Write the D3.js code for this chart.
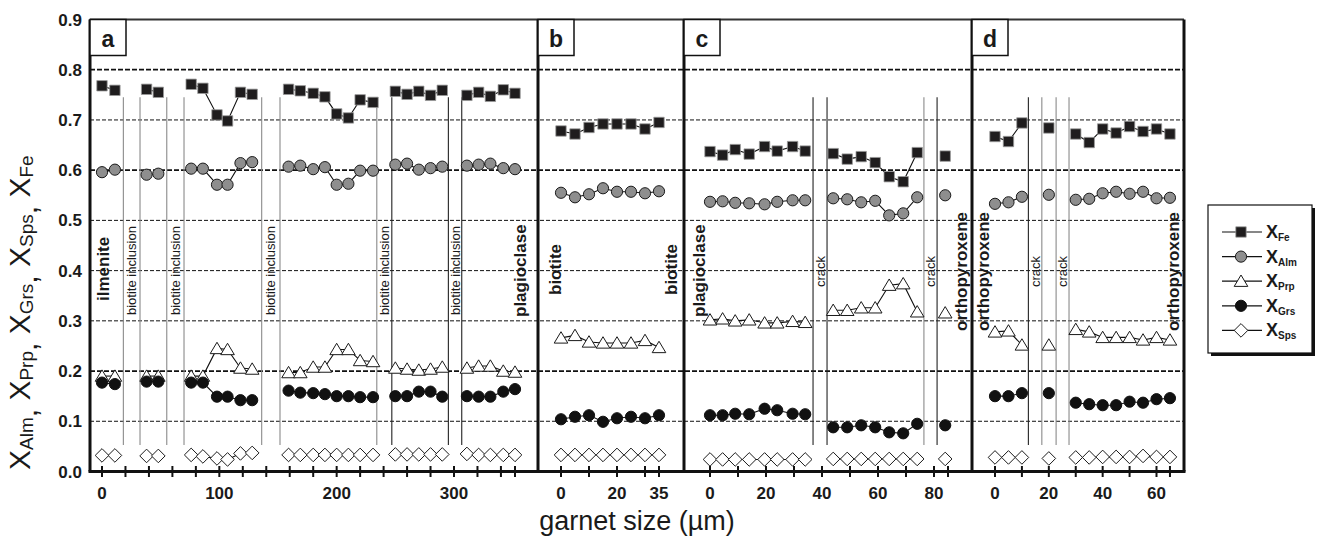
<!DOCTYPE html>
<html>
<head>
<meta charset="utf-8">
<script src="https://cdn.jsdelivr.net/npm/d3@7"></script>
<style>
  body { margin: 0; background: #fff; }
  svg { display: block; }
  text { font-family: "Liberation Sans", Arial, Helvetica, sans-serif; fill: #1a1a1a; }
</style>
</head>
<body>
<svg id="chart" width="1317" height="537"></svg>
<script>
// ---- data: garnet profiles, one array of segments per panel (segments are split by inclusions / cracks)
const yTicks = [0, 0.1, 0.2, 0.3, 0.4, 0.5, 0.6, 0.7, 0.8, 0.9];

// panel a
const sizeA = [[0, 11], [38, 48], [76, 86, 98, 107, 118, 128], [159, 169, 180, 190, 200, 210, 220, 231], [250, 260, 270, 280, 290], [311, 321, 331, 342, 352]];
const feA  = [[0.768, 0.759], [0.761, 0.755], [0.771, 0.763, 0.710, 0.698, 0.755, 0.751], [0.761, 0.758, 0.753, 0.746, 0.712, 0.704, 0.740, 0.735], [0.757, 0.751, 0.757, 0.749, 0.759], [0.749, 0.755, 0.747, 0.760, 0.753]];
const almA = [[0.596, 0.601], [0.591, 0.593], [0.603, 0.603, 0.571, 0.571, 0.614, 0.616], [0.607, 0.609, 0.602, 0.606, 0.571, 0.573, 0.599, 0.599], [0.611, 0.613, 0.601, 0.604, 0.607], [0.609, 0.611, 0.613, 0.604, 0.602]];
const prpA = [[0.190, 0.190], [0.190, 0.190], [0.190, 0.190, 0.245, 0.243, 0.206, 0.204], [0.197, 0.197, 0.208, 0.208, 0.243, 0.243, 0.221, 0.219], [0.206, 0.204, 0.202, 0.204, 0.208], [0.206, 0.210, 0.210, 0.200, 0.198]];
const grsA = [[0.177, 0.174], [0.179, 0.179], [0.177, 0.177, 0.149, 0.149, 0.142, 0.142], [0.161, 0.157, 0.156, 0.154, 0.150, 0.150, 0.148, 0.148], [0.150, 0.150, 0.159, 0.159, 0.149], [0.150, 0.149, 0.149, 0.159, 0.164]];
const spsA = [[0.032, 0.032], [0.031, 0.031], [0.033, 0.030, 0.026, 0.024, 0.036, 0.037], [0.033, 0.033, 0.033, 0.033, 0.033, 0.033, 0.033, 0.033], [0.034, 0.034, 0.034, 0.034, 0.034], [0.035, 0.033, 0.033, 0.033, 0.033]];
const inclusionA = [18.2, 32.4, 55.2, 69.9, 136.1, 151.7, 234.2, 247, 295.2, 306.6];
const xTicksA = [0, 20, 40, 60, 80, 100, 120, 140, 160, 180, 200, 220, 240, 260, 280, 300, 320, 340, 352];
const xLabelsA = [0, 100, 200, 300];

// panel b
const sizeB = [[0, 5, 10, 15, 20, 25, 30, 35]];
const feB  = [[0.678, 0.672, 0.685, 0.692, 0.692, 0.692, 0.682, 0.695]];
const almB = [[0.555, 0.546, 0.552, 0.564, 0.557, 0.557, 0.554, 0.558]];
const prpB = [[0.266, 0.271, 0.258, 0.256, 0.256, 0.256, 0.261, 0.247]];
const grsB = [[0.104, 0.109, 0.112, 0.099, 0.106, 0.109, 0.106, 0.112]];
const spsB = [[0.033, 0.033, 0.033, 0.033, 0.033, 0.033, 0.033, 0.033]];
const xTicksB = [0, 10, 20, 30, 35];
const xLabelsB = [0, 20, 35];

// panel c
const sizeC = [[0, 4.5, 9, 14, 19.5, 24, 29.5, 34], [44, 49, 54, 59, 64, 69, 74], [84]];
const feC  = [[0.637, 0.630, 0.641, 0.632, 0.647, 0.638, 0.647, 0.638], [0.633, 0.622, 0.627, 0.615, 0.587, 0.577, 0.635], [0.628]];
const almC = [[0.537, 0.538, 0.535, 0.534, 0.532, 0.537, 0.540, 0.540], [0.544, 0.542, 0.536, 0.539, 0.510, 0.514, 0.546], [0.550]];
const prpC = [[0.302, 0.304, 0.300, 0.302, 0.296, 0.296, 0.299, 0.297], [0.321, 0.321, 0.326, 0.326, 0.371, 0.374, 0.318], [0.316]];
const grsC = [[0.112, 0.112, 0.115, 0.114, 0.125, 0.122, 0.115, 0.114], [0.088, 0.088, 0.092, 0.088, 0.078, 0.076, 0.095], [0.092]];
const spsC = [[0.024, 0.024, 0.024, 0.024, 0.024, 0.024, 0.024, 0.024], [0.025, 0.025, 0.025, 0.025, 0.025, 0.025, 0.025], [0.025]];
const crackC = [36.8, 41.8, 76.4, 81.1];
const xTicksC = [0, 10, 20, 30, 40, 50, 60, 70, 80, 85];
const xLabelsC = [0, 20, 40, 60, 80];

// panel d
const sizeD = [[0, 5, 10], [20], [30, 35, 40, 45, 50, 55, 60, 65]];
const feD  = [[0.667, 0.657, 0.694], [0.684], [0.672, 0.655, 0.682, 0.674, 0.687, 0.677, 0.682, 0.672]];
const almD = [[0.533, 0.536, 0.547], [0.551], [0.541, 0.543, 0.554, 0.557, 0.553, 0.557, 0.544, 0.545]];
const prpD = [[0.278, 0.280, 0.252], [0.252], [0.283, 0.278, 0.267, 0.267, 0.267, 0.262, 0.267, 0.262]];
const grsD = [[0.150, 0.150, 0.156], [0.156], [0.137, 0.134, 0.132, 0.132, 0.139, 0.137, 0.144, 0.146]];
const spsD = [[0.028, 0.028, 0.028], [0.026], [0.028, 0.028, 0.029, 0.029, 0.029, 0.031, 0.029, 0.029]];
const crackD = [12.4, 17.4, 22.7, 27.5];
const xTicksD = [0, 10, 20, 30, 40, 50, 60, 65];
const xLabelsD = [0, 20, 40, 60];

const seriesKeys = ["Fe", "Alm", "Prp", "Grs", "Sps"];
// painting order, bottom first
const drawOrder = ["Sps", "Prp", "Grs", "Alm", "Fe"];

// ---- layout
const svg = d3.select("#chart");
const plotTop = 19.5, plotBottom = 471.5;
const y = d3.scaleLinear().domain([0, 0.9]).range([plotBottom, plotTop]);

const panels = [
  { id: "a", left: 90,  right: 538,  dom: [0, 300], rng: [102, 454],
    size: sizeA, vals: [feA, almA, prpA, grsA, spsA], ticks: xTicksA, labels: xLabelsA },
  { id: "b", left: 538, right: 684,  dom: [0, 35],  rng: [561, 659],
    size: sizeB, vals: [feB, almB, prpB, grsB, spsB], ticks: xTicksB, labels: xLabelsB },
  { id: "c", left: 684, right: 972,  dom: [0, 80],  rng: [710, 934],
    size: sizeC, vals: [feC, almC, prpC, grsC, spsC], ticks: xTicksC, labels: xLabelsC },
  { id: "d", left: 972, right: 1184, dom: [0, 60],  rng: [995, 1156.5],
    size: sizeD, vals: [feD, almD, prpD, grsD, spsD], ticks: xTicksD, labels: xLabelsD }
];
panels.forEach(p => { p.x = d3.scaleLinear().domain(p.dom).range(p.rng); });

const plotLeft = panels[0].left, plotRight = panels[3].right;

// ---- marker shapes
const markerStyle = {
  Fe:  { shape: "square",   fill: "#1f1d1e", stroke: "#9a9a9a", sw: 0.8 },
  Alm: { shape: "circle",   fill: "#8e8e8e", stroke: "#1a1a1a", sw: 1 },
  Prp: { shape: "triangle", fill: "#ffffff", stroke: "#1a1a1a", sw: 1 },
  Grs: { shape: "circle",   fill: "#111111", stroke: "#111111", sw: 1 },
  Sps: { shape: "diamond",  fill: "#ffffff", stroke: "#1a1a1a", sw: 1 }
};
function markerPath(shape) {
  switch (shape) {
    case "square":   return "M-5.2,-5.2H5.2V5.2H-5.2Z";
    case "circle":   return "M5.6,0A5.6,5.6 0 1,1 -5.6,0A5.6,5.6 0 1,1 5.6,0Z";
    case "triangle": return "M0,-6.2L6.8,5.2L-6.8,5.2Z";
    case "diamond":  return "M0,-6.8L6.8,0L0,6.8L-6.8,0Z";
  }
}
function drawMarker(g, key, cx, cy) {
  const s = markerStyle[key];
  g.append("path").attr("d", markerPath(s.shape))
    .attr("transform", `translate(${cx},${cy})`)
    .attr("fill", s.fill).attr("stroke", s.stroke).attr("stroke-width", s.sw);
}

// ---- gridlines
const grid = svg.append("g");
yTicks.filter(v => v > 0 && v < 0.9).forEach(v => {
  const heavy = (v === 0.2 || v === 0.6 || v === 0.8);
  grid.append("line")
    .attr("x1", plotLeft).attr("x2", plotRight)
    .attr("y1", y(v)).attr("y2", y(v))
    .attr("stroke", "#111").attr("stroke-width", heavy ? 1.8 : 1)
    .attr("stroke-dasharray", heavy ? "5,2" : "4,2");
});

// ---- separators (inclusions / cracks) and their labels
function vtext(g, x, yStart, str, size, weight) {
  g.append("text")
    .attr("transform", `translate(${x},${yStart}) rotate(-90)`)
    .attr("dominant-baseline", "central")
    .attr("font-size", size).attr("font-weight", weight)
    .text(str);
}
const sepG = svg.append("g");
function separators(p, positions, grayIdx, label, labelStart) {
  positions.forEach((u, i) => {
    sepG.append("line")
      .attr("x1", p.x(u)).attr("x2", p.x(u))
      .attr("y1", y(0.745)).attr("y2", y(0.053))
      .attr("stroke", grayIdx.includes(i) ? "#8a8a8a" : "#222")
      .attr("stroke-width", 1.1);
  });
  for (let i = 0; i < positions.length; i += 2) {
    const mid = p.x((positions[i] + positions[i + 1]) / 2);
    vtext(sepG, mid, labelStart, label, 13, "normal");
  }
}
separators(panels[0], inclusionA, [0, 1, 2, 3, 4, 5, 6], "biotite inclusion", 315);
separators(panels[2], crackC, [2], "crack", 287);
separators(panels[3], crackD, [1, 2, 3], "crack", 287);

// mineral contact labels
const labG = svg.append("g");
vtext(labG, 103.5, 301, "ilmenite", 17, "bold");
vtext(labG, 520, 317, "plagioclase", 17, "bold");
vtext(labG, 555, 295, "biotite", 17, "bold");
vtext(labG, 671, 295, "biotite", 17, "bold");
vtext(labG, 699, 317, "plagioclase", 17, "bold");
vtext(labG, 961.5, 331, "orthopyroxene", 17, "bold");
vtext(labG, 983, 331, "orthopyroxene", 17, "bold");
vtext(labG, 1173, 331, "orthopyroxene", 17, "bold");

// ---- series lines + markers
const dataG = svg.append("g");
const lineGen = d3.line().x(d => d[0]).y(d => d[1]);
panels.forEach(p => {
  drawOrder.forEach(key => {
    const vals = p.vals[seriesKeys.indexOf(key)];
    p.size.forEach((seg, si) => {
      const pts = seg.map((s, j) => [p.x(s), y(vals[si][j])]);
      if (pts.length > 1) {
        dataG.append("path").attr("d", lineGen(pts))
          .attr("fill", "none").attr("stroke", "#111").attr("stroke-width", 1.1);
      }
      pts.forEach(pt => drawMarker(dataG, key, pt[0], pt[1]));
    });
  });
});

// ---- frame
const frame = svg.append("g");
frame.append("line").attr("x1", plotLeft).attr("x2", plotRight).attr("y1", plotTop).attr("y2", plotTop)
  .attr("stroke", "#333").attr("stroke-width", 2);
panels.forEach(p => {
  frame.append("line").attr("x1", p.left).attr("x2", p.left).attr("y1", plotTop).attr("y2", plotBottom)
    .attr("stroke", "#111").attr("stroke-width", 3);
});
frame.append("line").attr("x1", plotRight).attr("x2", plotRight).attr("y1", plotTop).attr("y2", plotBottom)
  .attr("stroke", "#111").attr("stroke-width", 3);
frame.append("line").attr("x1", plotLeft - 1.5).attr("x2", plotRight + 1.5).attr("y1", plotBottom).attr("y2", plotBottom)
  .attr("stroke", "#111").attr("stroke-width", 3);

// panel letters
panels.forEach(p => {
  frame.append("rect").attr("x", p.left).attr("y", plotTop).attr("width", 36).attr("height", 36)
    .attr("fill", "#fff").attr("stroke", "#111").attr("stroke-width", 1.5);
  frame.append("text").attr("x", p.left + 18).attr("y", plotTop + 19)
    .attr("text-anchor", "middle").attr("dominant-baseline", "central")
    .attr("font-size", 23).attr("font-weight", "bold").text(p.id);
});

// ---- x axes
panels.forEach(p => {
  const ax = svg.append("g").attr("transform", `translate(0,${plotBottom})`);
  ax.call(d3.axisBottom(p.x).tickValues(p.ticks).tickSize(0).tickFormat(""));
  ax.select(".domain").remove();
  p.ticks.forEach(t => {
    ax.append("line").attr("x1", p.x(t)).attr("x2", p.x(t)).attr("y1", -5.5).attr("y2", 5.5)
      .attr("stroke", "#111").attr("stroke-width", 2);
  });
  p.labels.forEach(t => {
    ax.append("text").attr("x", p.x(t)).attr("y", 22)
      .attr("text-anchor", "middle").attr("dominant-baseline", "central")
      .attr("font-size", 17).attr("font-weight", "bold").text(t);
  });
});

// ---- y axis labels
const yAx = svg.append("g").attr("transform", `translate(${plotLeft},0)`);
yAx.call(d3.axisLeft(y).tickValues(yTicks).tickSize(0).tickFormat(d3.format(".1f")));
yAx.select(".domain").remove();
yAx.selectAll(".tick text")
  .attr("x", -8).attr("dy", null).attr("dominant-baseline", "central")
  .attr("font-size", 17).attr("font-weight", "bold")
  .attr("font-family", "'Liberation Sans', Arial, sans-serif").attr("fill", "#1a1a1a");

// ---- axis titles
const yTitle = svg.append("text")
  .attr("transform", `translate(19,470) rotate(-90)`)
  .attr("dominant-baseline", "central")
  .attr("font-size", 30);
const titleSubs = ["Alm", "Prp", "Grs", "Sps", "Fe"];
titleSubs.forEach((s, i) => {
  yTitle.append("tspan").attr("font-size", 30).attr("dy", i === 0 ? 0 : -7).text("X");
  yTitle.append("tspan").attr("font-size", 19).attr("dy", 7).text(s);
  if (i < titleSubs.length - 1) {
    yTitle.append("tspan").attr("font-size", 30).text(",\u00a0");
  }
});

svg.append("text").attr("x", 637).attr("y", 530)
  .attr("text-anchor", "middle").attr("font-size", 27)
  .text("garnet size (\u00b5m)");

// ---- legend
const lg = svg.append("g");
const lgX = 1208, lgY = 205, lgW = 104, lgH = 148;
lg.append("rect").attr("x", lgX + 3).attr("y", lgY + 3).attr("width", lgW).attr("height", lgH).attr("fill", "#111");
lg.append("rect").attr("x", lgX).attr("y", lgY).attr("width", lgW).attr("height", lgH)
  .attr("fill", "#fff").attr("stroke", "#111").attr("stroke-width", 1.2);
seriesKeys.forEach((key, i) => {
  const cy = 232 + i * 24.6;
  lg.append("line").attr("x1", 1222).attr("x2", 1262).attr("y1", cy).attr("y2", cy)
    .attr("stroke", "#111").attr("stroke-width", 1.2);
  drawMarker(lg, key, 1241, cy);
  const t = lg.append("text").attr("x", 1266).attr("y", cy + 6).attr("font-weight", "bold");
  t.append("tspan").attr("font-size", 18).text("X");
  t.append("tspan").attr("font-size", 10).attr("dy", 3).text(key);
});
</script>
</body>
</html>
